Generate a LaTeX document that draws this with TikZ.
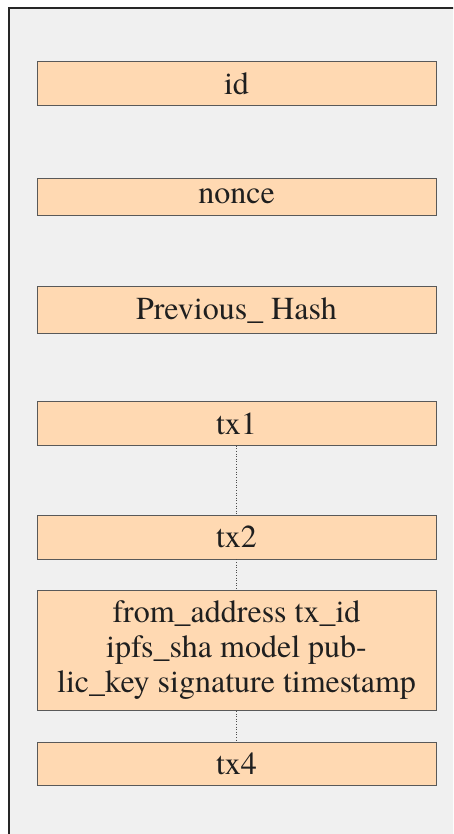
\documentclass[tikz,border=0pt]{standalone}
\usepackage{fontspec}
\setmainfont{TeX Gyre Termes}
\begin{document}
\begin{tikzpicture}[x=1pt,y=-1pt,
  field/.style={draw=black!65, line width=0.9pt, fill=orange!30,
    minimum width=399pt, inner xsep=6pt, inner ysep=10.8pt,
    font=\rmfamily\fontsize{32}{35}\selectfont, text=black!88, align=center},
  link/.style={draw=black!70, dotted, line width=0.6pt}]
  \useasboundingbox (0,0) rectangle (453,834);
  \clip (0,0) rectangle (453,834);
  % block frame, running past the right and bottom edges
  \draw[line width=2pt, draw=black!85, fill=black!6] (9,8) rectangle (480,870);

  \node[field] (id)    at (236.5,83.5)  {id};
  \node[field] (nonce) at (236.5,196.7) {nonce};
  \node[field] (prev)  at (236.5,310.2) {Previous\_ Hash};
  \node[field] (tx1)   at (236.5,423.5) {tx1};
  \node[field] (tx2)   at (236.5,537.2) {tx2};
  \node[field] (tx3)   at (236.5,650.4) {from\_address tx\_id\\ipfs\_sha model pub-\\lic\_key signature timestamp};
  \node[field] (tx4)   at (236.5,763.8) {tx4};

  \draw[link] (tx1.south) -- (tx2.north);
  \draw[link] (tx2.south) -- (tx3.north);
  \draw[link] (tx3.south) -- (tx4.north);
\end{tikzpicture}
\end{document}
